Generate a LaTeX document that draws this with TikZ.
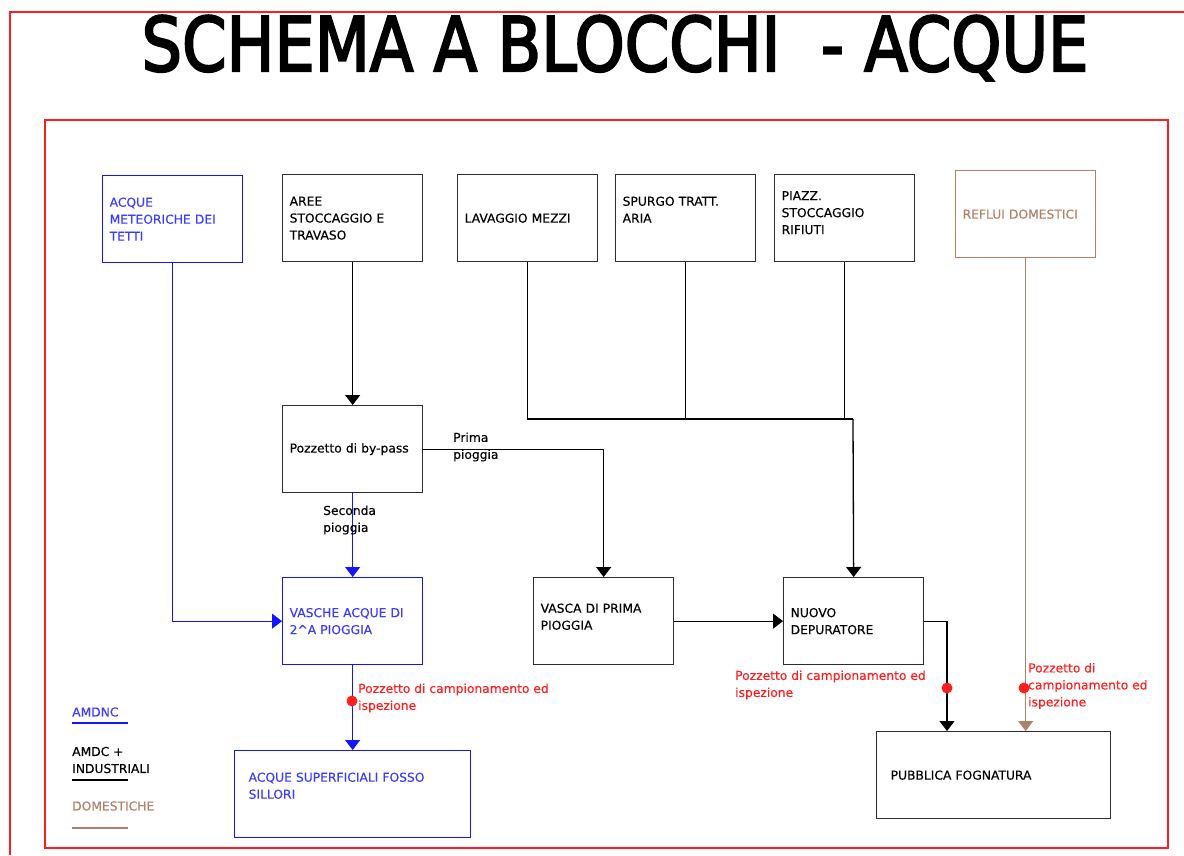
\documentclass[tikz,border=0pt]{standalone}
\usepackage{fontspec}
\setmainfont{DejaVu Sans}
\usepackage{tikz}
\usetikzlibrary{arrows.meta}

\definecolor{blu}{RGB}{20,20,255}
\definecolor{blutesto}{RGB}{60,60,255}
\definecolor{marrone}{RGB}{176,128,104}
\definecolor{rosso}{RGB}{255,30,30}
\definecolor{bordo}{RGB}{45,45,45}

\newcommand{\fontblocco}{\fontsize{12.3}{17}\selectfont\addfontfeatures{FakeBold=0.3}}

\tikzset{
	blocco/.style={draw=bordo, line width=1.3pt, rectangle, anchor=north west,
		minimum width=140pt, minimum height=87pt, text width=126pt,
		inner xsep=7pt, align=left, font=\fontblocco},
	testo/.style={anchor=west, align=left, inner sep=0pt, font=\fontblocco},
	freccia/.style={line width=1.3pt, -{Triangle[width=15pt,length=10pt]}},
	linea/.style={line width=1.3pt},
	pozzetto/.style={circle, fill=rosso, inner sep=0pt, minimum size=11pt},
}

\begin{document}
\begin{tikzpicture}[x=1pt,y=-1pt]
		\useasboundingbox (0,0) rectangle (1184,855);
		\draw[rosso, line width=1.3pt] (10,855) -- (10,12) -- (1184,12);
		\draw[rosso, line width=1.3pt] (45,120) rectangle (1168,848);
		\node (titolo) at (615,48) {\scalebox{0.85}[1]{\fontsize{75}{80}\selectfont\addfontfeatures{FakeBold=3}SCHEMA A BLOCCHI \ - ACQUE}};

		% blocchi in alto
		\node[blocco, draw=blu, text=blutesto] (meteo) at (102,175) {ACQUE\\METEORICHE DEI\\TETTI};
		\node[blocco] (aree) at (282,174) {AREE\\STOCCAGGIO E\\TRAVASO};
		\node[blocco] (lavaggio) at (457,174) {LAVAGGIO MEZZI};
		\node[blocco] (spurgo) at (615,174) {SPURGO TRATT.\\ARIA\\\mbox{}};
		\node[blocco] (piazz) at (774,174) {PIAZZ.\\STOCCAGGIO\\RIFIUTI\\[-6pt]\mbox{}};
		\node[blocco, draw=marrone, text=marrone, minimum width=139pt] (reflui) at (955,170) {REFLUI DOMESTICI};

		% blocchi centrali
		\node[blocco] (bypass) at (282,405) {Pozzetto di by-pass};
		\node[blocco, draw=blu, text=blutesto] (vasche) at (282,577) {VASCHE ACQUE DI\\2\^{}A PIOGGIA};
		\node[blocco] (vasca) at (533,577) {VASCA DI PRIMA\\PIOGGIA\\[-8pt]\mbox{}};
		\node[blocco] (depuratore) at (783,577) {NUOVO\\DEPURATORE};

		% recettori
		\node[blocco, draw=blu, text=blutesto, minimum width=236pt, text width=208pt, inner xsep=14pt] (superficiali) at (234,750) {ACQUE SUPERFICIALI FOSSO\\SILLORI\\\mbox{}};
		\node[blocco, minimum width=234pt, text width=206pt, inner xsep=14pt] (fognatura) at (876,731) {PUBBLICA FOGNATURA};

		% collegamenti
		\coordinate (giunto) at (853,419);
		\coordinate (ingresso) at (947,731);
		\draw[freccia] (aree) -- (bypass);
		\draw[freccia, blu] (meteo.south) |- (vasche.west);
		\draw[freccia, blu] (bypass) -- (vasche);
		\draw[freccia] (bypass.east) -| (vasca.north);
		\draw[linea] (lavaggio.south) |- (giunto);
		\draw[linea] (spurgo.south) -- (spurgo.south |- giunto);
		\draw[linea] (piazz.south) -- (piazz.south |- giunto);
		\draw[freccia] (giunto) -- (depuratore.north);
		\draw[freccia] (vasca.east) -- (depuratore.west);
		\draw[freccia] (depuratore.east) -| (ingresso);
		\draw[freccia, marrone] (reflui.south) -- (reflui.south |- fognatura.north);
		\draw[freccia, blu] (vasche) -- (superficiali);

		% etichette
		\node[testo] (seconda) at (323,520) {Seconda\\pioggia};
		\node[testo] (prima) at (453,447) {Prima\\pioggia};

		% pozzetti di campionamento
		\node[pozzetto] (p1) at (352,701) {};
		\node[pozzetto] (p2) at (947,688) {};
		\node[pozzetto] (p3) at (1024,688) {};
		\node[testo, text=rosso] at (358,698) {Pozzetto di campionamento ed\\ispezione};
		\node[testo, text=rosso] at (735,685) {Pozzetto di campionamento ed\\ispezione};
		\node[testo, text=rosso] at (1028,686) {Pozzetto di\\campionamento ed\\ispezione};

		% legenda
		\node[testo, text=blutesto] (amdnc) at (72,712) {AMDNC};
		\draw[blu, linea] (72,723) -- (128,723);
		\node[testo] (amdc) at (72,760) {AMDC +\\INDUSTRIALI};
		\draw[linea] (72,780) -- (128,780);
		\node[testo, text=marrone] (domestiche) at (72,806) {DOMESTICHE};
		\draw[marrone, linea] (72,828) -- (128,828);
	\end{tikzpicture}
\end{document}
